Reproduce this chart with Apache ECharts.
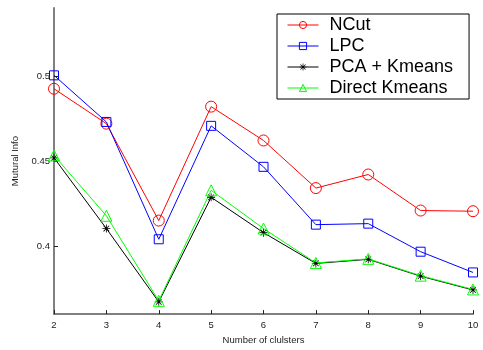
<!DOCTYPE html>
<html><head><meta charset="utf-8">
<script src="https://cdn.jsdelivr.net/npm/echarts@6/dist/echarts.min.js"></script>
<style>html,body{margin:0;padding:0;background:#fff}#c{width:483px;height:350px}</style>
</head><body><div id="c"></div>
<script>
const clusters = [2, 3, 4, 5, 6, 7, 8, 9, 10];
const ncut = [0.4925, 0.4720, 0.4150, 0.4820, 0.4621, 0.4341, 0.4421, 0.4209, 0.4205];
const lpc = [0.5004, 0.4730, 0.4040, 0.4707, 0.4466, 0.4126, 0.4132, 0.3967, 0.3845];
const pcaKmeans = [0.4519, 0.4103, 0.3672, 0.4287, 0.4079, 0.3898, 0.3922, 0.3823, 0.3742];
const directKmeans = [0.4533, 0.4178, 0.3678, 0.4328, 0.4103, 0.3901, 0.3925, 0.3826, 0.3745];
const yTicks = [0.4, 0.45, 0.5];
const seriesNames = ['NCut', 'LPC', 'PCA + Kmeans', 'Direct Kmeans'];

const star = 'path://M-10,-1L10,-1L10,1L-10,1Z M-1,-10L1,-10L1,10L-1,10Z M-7.8,-6.4L-6.4,-7.8L7.8,6.4L6.4,7.8Z M-7.8,6.4L6.4,-7.8L7.8,-6.4L-6.4,7.8Z';
function pairs(v){ return clusters.map((x,i)=>[x,v[i]]); }
function mk(name, data, color, symbol, size, hollow){
  return {
    name, type:'line', data: pairs(data), symbol, symbolSize:size, symbolKeepAspect:true,
    lineStyle:{color, width:1},
    itemStyle: hollow ? {color:'rgba(0,0,0,0)', borderColor:color, borderWidth:1} : {color, borderWidth:0},
    emphasis:{disabled:true}, animation:false
  };
}
const chart = echarts.init(document.getElementById('c'), null, {renderer:'canvas'});
chart.setOption({
  animation:false,
  grid:{left:54, right:10, top:8, bottom:28},
  xAxis:{type:'value', min:2, max:10, interval:1,
    name:'Number of clulsters', nameLocation:'middle', nameGap:14,
    nameTextStyle:{fontSize:9.5, color:'#222', fontFamily:'Liberation Sans'},
    axisLine:{lineStyle:{color:'#808080', width:2}},
    axisTick:{inside:true, length:4, lineStyle:{color:'#222'}},
    axisLabel:{fontSize:9.5, color:'#222', margin:6, fontFamily:'Liberation Sans'},
    splitLine:{show:false}},
  yAxis:{type:'value', min:0.36, max:0.54,
    name:'Mutural Info', nameLocation:'middle', nameGap:33,
    nameTextStyle:{fontSize:9.5, color:'#222', fontFamily:'Liberation Sans'},
    axisLine:{show:true, lineStyle:{color:'#808080', width:2}},
    axisTick:{show:true, inside:true, length:4, customValues:yTicks, lineStyle:{color:'#222'}},
    axisLabel:{fontSize:9.5, color:'#222', margin:4, customValues:yTicks, fontFamily:'Liberation Sans'},
    splitLine:{show:false}},
  legend:{orient:'vertical', left:277, top:14, padding:[2,16,2,10], itemGap:3,
    itemWidth:31, itemHeight:9, borderColor:'#000', borderWidth:1, backgroundColor:'#fff',
    lineStyle:{width:1}, itemStyle:{borderWidth:1},
    textStyle:{fontSize:18, lineHeight:18, color:'#000', fontFamily:'Liberation Sans', padding:[0,0,0,6]},
    data: seriesNames},
  series:[
    mk(seriesNames[0], ncut, '#ff0000', 'circle', 11, true),
    mk(seriesNames[1], lpc, '#0000ff', 'rect', 9, true),
    mk(seriesNames[2], pcaKmeans, '#000000', star, 8, false),
    mk(seriesNames[3], directKmeans, '#00ff00', 'triangle', 11, true)
  ]
});
</script></body></html>
